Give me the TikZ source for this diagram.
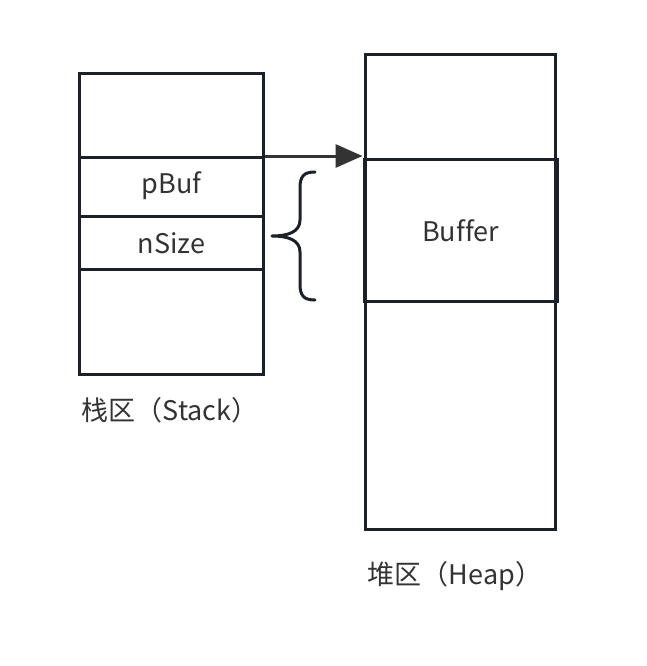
\documentclass[tikz,border=0pt]{standalone}
\usepackage{fontspec}
\setmainfont[Ligatures=NoCommon]{Noto Sans CJK SC}
\usetikzlibrary{arrows.meta}
\definecolor{edge}{HTML}{1B2029}
\definecolor{arrowc}{HTML}{333333}
\definecolor{txt}{HTML}{333333}
\tikzset{
  cell/.style={draw=edge, line width=3pt, inner sep=0pt, anchor=north west},
  lbl/.style={text=txt, font=\fontsize{27}{32}\selectfont, inner sep=0pt},
}
\begin{document}
\begin{tikzpicture}[x=1pt,y=-1pt]
\useasboundingbox (0,0) rectangle (647,666);
% stack
\node[cell, minimum width=184pt, minimum height=84pt] (s1) at (78,72) {};
\node[cell, minimum width=184pt, minimum height=59pt] (s2) at (78,156) {};
\node[cell, minimum width=184pt, minimum height=53pt] (s3) at (78,215) {};
\node[cell, minimum width=184pt, minimum height=105pt] (s4) at (78,268) {};
\node[lbl] (pbuf) at ([yshift=1pt]s2.center) {pBuf};
\node[lbl] (nsize) at (s3.center) {nSize};
\node[lbl] (stk) at (170,410) {栈区（Stack）};
% heap
\node[cell, minimum width=190pt, minimum height=475pt] (h) at (364,53) {};
\node[cell, minimum width=193pt, minimum height=142pt] (buf) at (362.5,158) {};
\node[lbl] (buftxt) at (buf.center) {Buffer};
\node[lbl] (hp) at (455,576) {堆区（Heap）};
% arrow
\coordinate (aend) at (buf.west |- s2.north east);
\draw[arrowc, line width=3pt, -{Triangle[length=27pt,width=23pt]}] (s2.north east) -- (aend);
% brace
\coordinate (bt) at (315,172);
\coordinate (bb) at (315,300);
\coordinate (tip) at (272,236);
\draw[edge, line width=3pt, line cap=round, line join=round]
  (bt) .. controls (304,172) and (300,176) .. (300,188)
  -- (300,220) .. controls (300,232) and (288,236) .. (tip)
  .. controls (288,236) and (300,240) .. (300,252)
  -- (300,284) .. controls (300,296) and (304,300) .. (bb);
\end{tikzpicture}
\end{document}
